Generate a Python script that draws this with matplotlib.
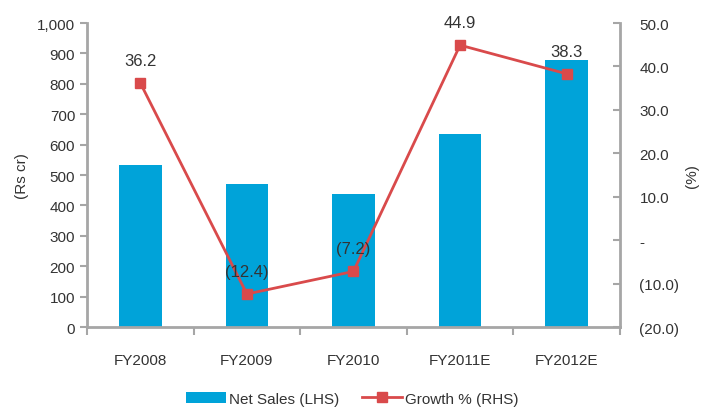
import matplotlib
matplotlib.use("Agg")
import matplotlib.pyplot as plt
from matplotlib.ticker import FixedLocator, FuncFormatter
from matplotlib.lines import Line2D
from matplotlib.patches import Patch

years = ["FY2008", "FY2009", "FY2010", "FY2011E", "FY2012E"]
net_sales = [533, 470, 436, 634, 877]
growth = [36.2, -12.4, -7.2, 44.9, 38.3]
growth_labels = ["36.2", "(12.4)", "(7.2)", "44.9", "38.3"]

plt.rcParams['font.family'] = ['Liberation Sans', 'DejaVu Sans']
BLUE = "#00A3D9"
RED = "#D94A4B"
GREY = "#A6A6A6"
TXT = "#333333"

fig = plt.figure(figsize=(7.04, 4.14), dpi=100)
ax = fig.add_axes([0.1236, 0.2077, 0.757, 0.7343])
x = list(range(len(years)))
ax.bar(x, net_sales, width=0.4, color=BLUE, zorder=2)
ax.set_xlim(-0.5, len(years) - 0.5)
ax.set_ylim(0, 1000)
ax.yaxis.set_major_locator(FixedLocator(range(0, 1001, 100)))
ax.yaxis.set_major_formatter(FuncFormatter(lambda v, p: f"{int(v):,}"))
ax.set_xticks(x)
ax.set_xticklabels(years)
ax.set_xticks([i - 0.5 for i in range(len(years) + 1)], minor=True)
ax.tick_params(axis='x', which='major', length=0, pad=19, labelsize=11, labelcolor=TXT)
ax.tick_params(axis='x', which='minor', length=6, width=1.5, color=GREY, direction='out')
ax.tick_params(axis='y', length=5, width=1.5, color=GREY, labelsize=11, labelcolor=TXT)
ax.set_ylabel("(Rs cr)", fontsize=11, color=TXT, labelpad=6)
for s in ['top', 'right']:
    ax.spines[s].set_visible(False)
for s in ['left', 'bottom']:
    ax.spines[s].set_color(GREY)
    ax.spines[s].set_linewidth(2)

ax2 = ax.twinx()
ax2.plot(x, growth, color=RED, lw=2, marker='s', ms=7, zorder=3)
ax2.set_ylim(-20, 50)
ax2.yaxis.set_major_locator(FixedLocator(range(-20, 51, 10)))

def pct(v, p):
    v = round(v)
    if v == 0:
        return "-"
    if v < 0:
        return f"({abs(v):.1f})"
    return f"{v:.1f}"

ax2.yaxis.set_major_formatter(FuncFormatter(pct))
ax2.tick_params(axis='y', length=5, width=1.5, color=GREY, direction='in', labelsize=11,
                labelcolor=TXT, pad=14)
for s in ['top', 'left', 'bottom']:
    ax2.spines[s].set_visible(False)
ax2.spines['right'].set_color(GREY)
ax2.spines['right'].set_linewidth(2)
ax2.set_ylabel("(%)", fontsize=11, color=TXT, labelpad=4)

for xi, g, lab in zip(x, growth, growth_labels):
    ax2.annotate(lab, (xi, g), xytext=(0, 11), textcoords='offset points',
                 ha='center', va='bottom', fontsize=12, color=TXT)

handles = [Patch(facecolor=BLUE, edgecolor='none'),
           Line2D([0], [0], color=RED, lw=2, marker='s', ms=7)]
fig.legend(handles, ["Net Sales (LHS)", "Growth % (RHS)"], loc='center',
           bbox_to_anchor=(0.5, 0.035), ncol=2, frameon=False, fontsize=11,
           handlelength=2.6, handletextpad=0.2, columnspacing=1.5, labelcolor=TXT)

fig.savefig("out.png", dpi=100)
